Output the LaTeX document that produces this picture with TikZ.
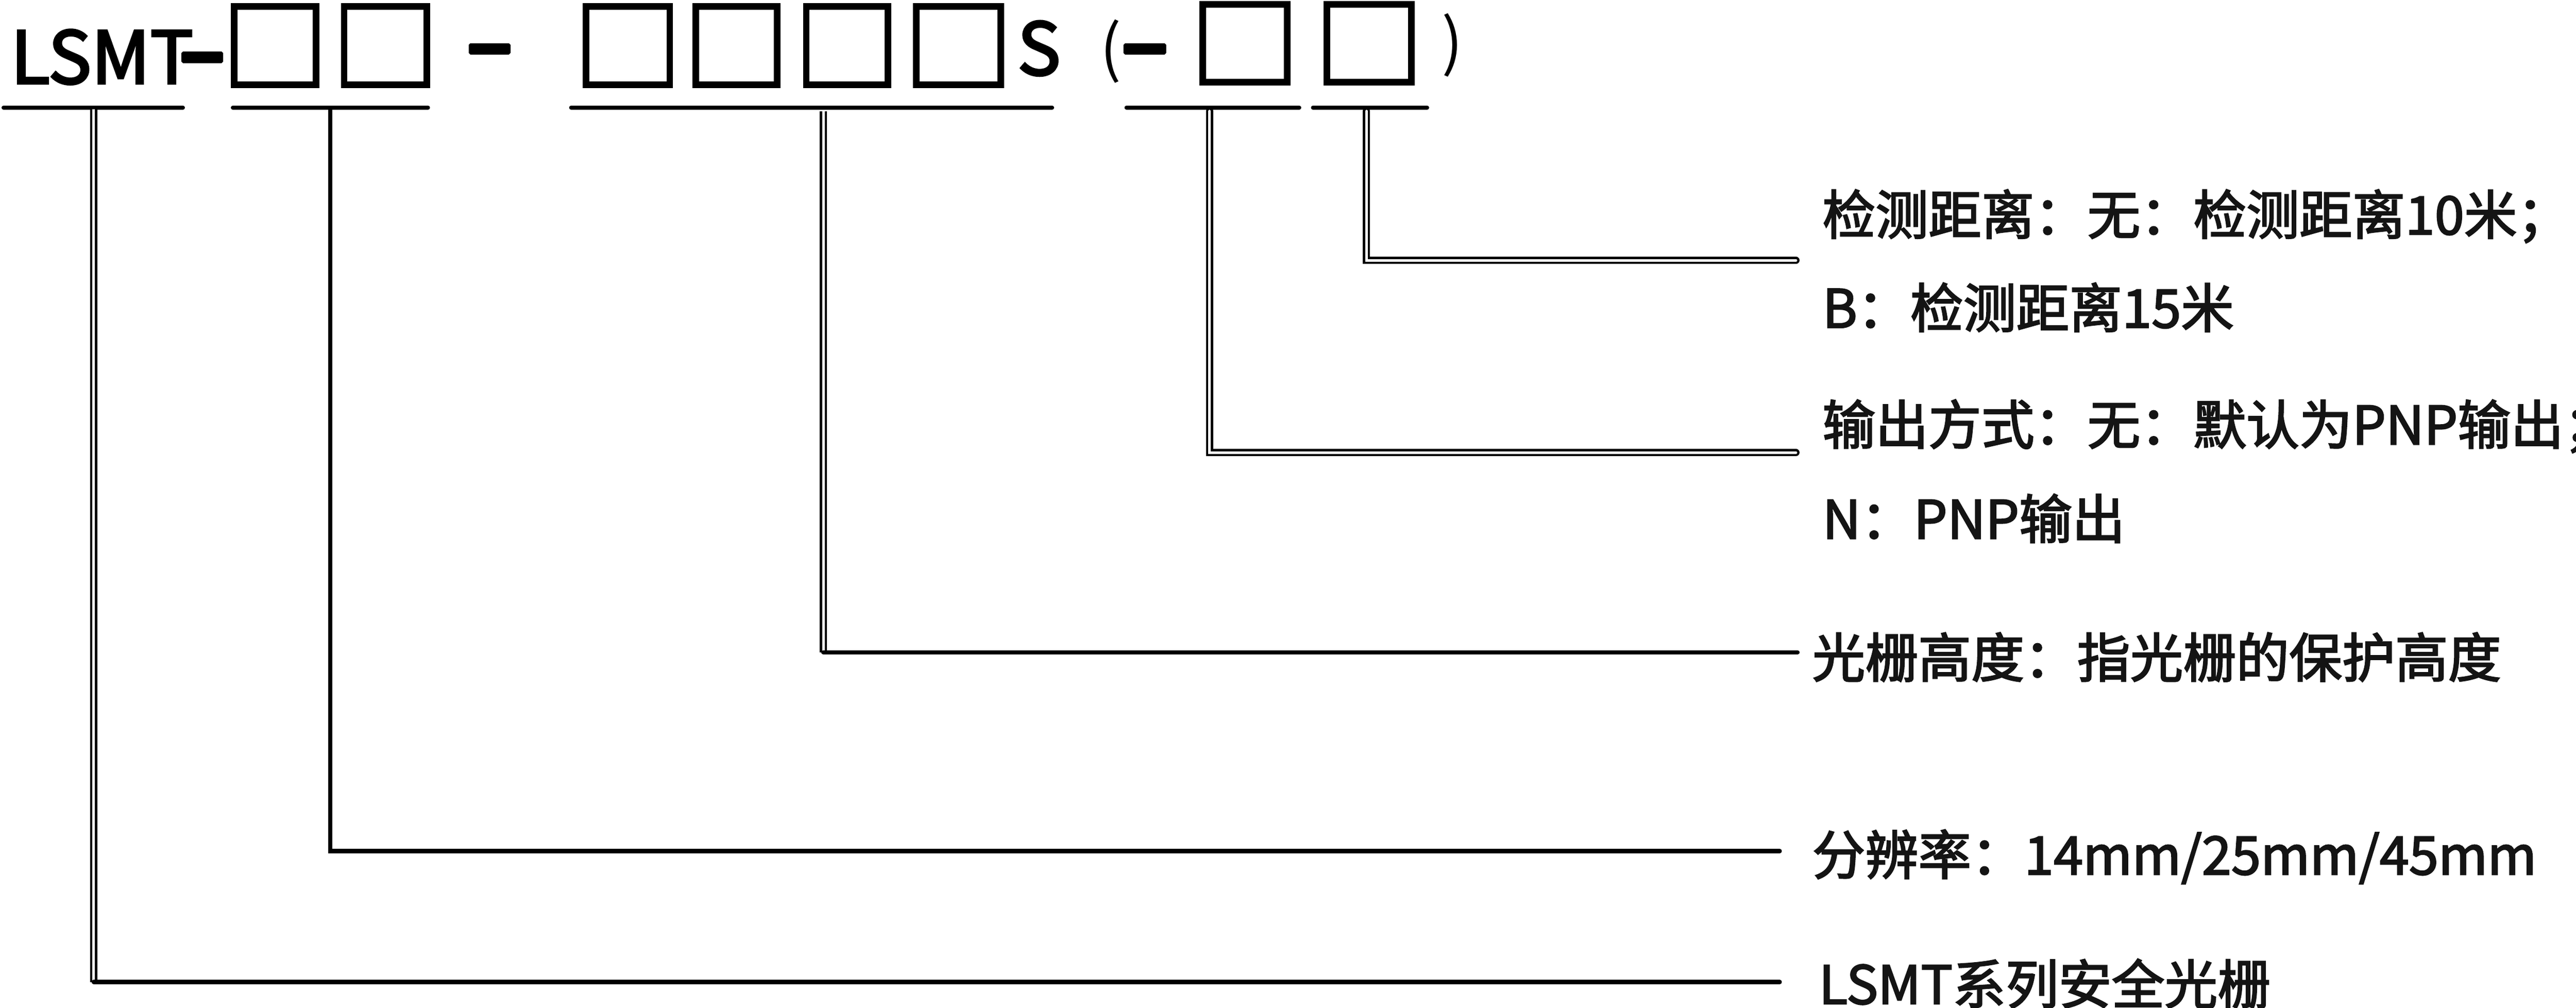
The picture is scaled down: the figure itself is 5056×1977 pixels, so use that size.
\documentclass[tikz,border=0pt]{standalone}
\usepackage{fontspec}
\setmainfont{Noto Sans CJK SC}
\newfontfamily\medfont{Noto Sans CJK SC}[FakeBold=2.5]
\newfontfamily\codefont{Noto Sans CJK SC}[FakeBold=3]
\begin{document}
\begin{tikzpicture}[x=0.1pt,y=-0.1pt,
  codebox/.style={line width=1.3pt},
  dashbar/.style={fill=black, rounded corners=0.2pt},
  uline/.style={line width=0.8pt, line cap=round},
  dbl/.style={double, line width=0.45pt, double distance=0.5pt},
  sln/.style={line width=0.85pt, line cap=round},
  lbl/.style={anchor=base west, inner sep=0pt, font=\medfont\fontsize{10.4pt}{12pt}\selectfont, text=black!92},
  codetxt/.style={anchor=base west, inner sep=0pt, font=\codefont\fontsize{14.2pt}{16pt}\selectfont}]
\useasboundingbox (0,0) rectangle (5056,1977);

% ---- top code line ----
\node[codetxt] (lsmt) at (19,164) {LSMT};
\draw[dashbar] (358,103) rectangle (436,122);
\draw[codebox] (459.5,12.5) rectangle (620.5,166.5);
\draw[codebox] (675.5,12.5) rectangle (837.5,166.5);
\draw[dashbar] (922,87) rectangle (1000,105);
\draw[codebox] (1150.5,12.5) rectangle (1314.5,166.5);
\draw[codebox] (1365.5,12.5) rectangle (1525.5,166.5);
\draw[codebox] (1582.5,12.5) rectangle (1742.5,166.5);
\draw[codebox] (1798.5,12.5) rectangle (1964.5,166.5);
\node[codetxt] (s) at (1995,147) {S};
\node[anchor=base west, inner sep=0pt, font=\fontsize{12.3pt}{14pt}\selectfont] (lp) at (2157,139) {(};
\draw[dashbar] (2207,87) rectangle (2287,105);
\draw[codebox] (2360.5,8.5) rectangle (2526.5,161.5);
\draw[codebox] (2604.5,8.5) rectangle (2770.5,161.5);
\node[anchor=base west, inner sep=0pt, font=\fontsize{12.3pt}{14pt}\selectfont] (rp) at (2828,127) {)};

% ---- underlines ----
\draw[uline] (7,211) -- (359,211);
\draw[uline] (457,211) -- (840,211);
\draw[uline] (1121,211) -- (2065,211);
\draw[uline] (2211,211) -- (2550,211);
\draw[uline] (2577,211) -- (2801,211);

% ---- labels ----
\node[lbl] (t1) at (3575,460) {检测距离：无：检测距离10米；};
\node[lbl] (t2) at (3575,643) {B：检测距离15米};
\node[lbl] (t3) at (3575,872) {输出方式：无：默认为PNP输出；};
\node[lbl] (t4) at (3575,1057) {N：PNP输出};
\node[lbl] (t5) at (3555,1329) {光栅高度：指光栅的保护高度};
\node[lbl] (t6) at (3555,1716) {分辨率：14mm/25mm/45mm};
\node[lbl] (t7) at (3568,1970) {LSMT系列安全光栅};

% ---- connector coordinates ----
\coordinate (s1) at (184,214);
\coordinate (c1) at (184,1927);
\coordinate (e1) at (3493,1927);
\coordinate (s2) at (648,211);
\coordinate (e2) at (3493,1670);
\coordinate (s3) at (1616,218);
\coordinate (c3) at (1616,1280);
\coordinate (e3) at (3528,1280);
\coordinate (s4) at (2374,218);
\coordinate (e4) at (3525,888);
\coordinate (s5) at (2682,218);
\coordinate (e5) at (3525,511);

% ---- connectors ----
\draw[dbl, line cap=round] (s5) |- (e5);
\draw[dbl, line cap=round] (s4) |- (e4);
\draw[dbl] (s3) -- (c3);
\draw[sln] (c3) -- (e3);
\draw[sln, line cap=butt] (s2) |- (e2);
\draw[sln] ([xshift=-0.3pt]e2) -- (e2);
\draw[dbl] (s1) -- (c1);
\draw[sln] (c1) -- (e1);
\end{tikzpicture}
\end{document}
